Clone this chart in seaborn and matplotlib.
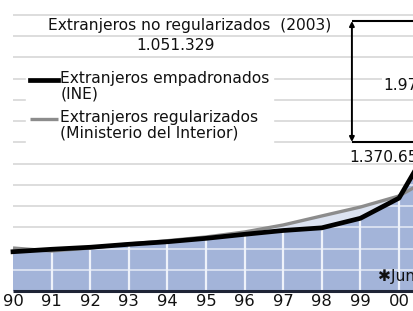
import matplotlib
matplotlib.use("Agg")
import matplotlib.pyplot as plt
import seaborn as sns
import numpy as np
import pandas as pd
from matplotlib.legend_handler import HandlerLine2D

# ---- data (thousands of people) ----
years = [1990, 1991, 1992, 1993, 1994, 1995, 1996, 1997, 1998, 1999, 2000, 2001]
empadronados = [370, 393, 412, 440, 464, 496, 534, 570, 595, 685, 875, 1500]
regularizados = [405, 377, 405, 443, 474, 509, 556, 622, 707, 791, 895, 1100]
tick_labels = ["90", "91", "92", "93", "94", "95", "96", "97", "98", "99", "00"]
label_emp = "Extranjeros empadronados\n(INE)"
label_reg = "Extranjeros regularizados\n(Ministerio del Interior)"
title_txt = "Extranjeros no regularizados  (2003)"
diff_txt = "1.051.329"
upper_txt = "1.977.946"
lower_txt = "1.370.657"
note_txt = "\u2731Junio 2003"
arrow_top, arrow_bottom, arrow_x = 2543, 1404, 1998.78
grid_vals = list(range(200, 2601, 200))

df = pd.DataFrame({"year": years, "emp": empadronados, "reg": regularizados})

sns.set_theme(style="white")
plt.rcParams["font.family"] = ["DejaVu Sans"]
plt.rcParams["text.color"] = "#111111"

W, H = 414, 311
fig = plt.figure(figsize=(W / 100, H / 100), dpi=100)
ax = fig.add_axes([0, 0, 1, 1])

px = 2600 / 276.0
ax.set_xlim(1990 - 13 / 38.6, 1990 + 401 / 38.6)
ax.set_ylim(-20 * px, 2600 + 15 * px)
xmax = ax.get_xlim()[1] + 0.5

BLUE = "#A3B4D9"
PALE = "#DCE3F1"

# gray horizontal grid on white
ax.hlines(grid_vals, 1990, xmax, color="#D7D7D7", lw=1.2, zorder=0)

x = np.array(years, float)
e = np.array(empadronados, float)
r = np.array(regularizados, float)
fill = ax.fill_between(x, 0, e, color=BLUE, lw=0, zorder=1)
ax.fill_between(x, e, r, where=r > e, interpolate=True, color=PALE, lw=0, zorder=1)

# light grid drawn over the blue area only
clip_path = fill.get_paths()[0]
hl = ax.hlines(grid_vals, 1990, xmax, color="#DCE3F2", lw=1.3, zorder=1.5)
hl.set_clip_path(clip_path, ax.transData)
vl = ax.vlines(years[1:11], 0, 2600, color="#EEF2FA", lw=1.6, zorder=1.5)
vl.set_clip_path(clip_path, ax.transData)

# baseline
ax.hlines(0, 1990, xmax, color="#1E2436", lw=2.2, zorder=3)

sns.lineplot(data=df, x="year", y="reg", ax=ax, color="#8C8C8C", lw=2.4,
             label=label_reg, zorder=2, solid_capstyle="butt")
sns.lineplot(data=df, x="year", y="emp", ax=ax, color="black", lw=3.4,
             label=label_emp, zorder=3, solid_capstyle="projecting")
ax.axis("off")


class TopAlignedLine(HandlerLine2D):
    def create_artists(self, legend, orig_handle, xdescent, ydescent,
                       width, height, fontsize, trans):
        arts = super().create_artists(legend, orig_handle, xdescent, ydescent,
                                      width, height, fontsize, trans)
        for a in arts:
            yd = np.asarray(a.get_ydata(), float)
            a.set_ydata(yd + 0.45 * fontsize)
        return arts


handles, labels = ax.get_legend_handles_labels()
order = [labels.index(label_emp), labels.index(label_reg)]
fs = 11.2
leg = ax.legend([handles[i] for i in order], [labels[i] for i in order],
                loc="upper left", bbox_to_anchor=(26 / W, 1 - 67 / H),
                bbox_transform=fig.transFigure, fontsize=fs,
                frameon=True, facecolor="white", edgecolor="white",
                framealpha=1, fancybox=False, handlelength=1.8,
                handletextpad=0.15, labelspacing=0.6, borderpad=0.25,
                borderaxespad=0,
                handler_map={type(handles[0]): TopAlignedLine()})
leg.set_zorder(5)
for t in leg.get_texts():
    t.set_linespacing(1.02)
    t.set_color("#111111")

# arrow annotation
ax.annotate("", xy=(arrow_x, arrow_top), xytext=(arrow_x, arrow_bottom),
            arrowprops=dict(arrowstyle="<|-|>", color="black", lw=1.4,
                            mutation_scale=7, shrinkA=0, shrinkB=0),
            zorder=6)
ax.hlines([arrow_top, arrow_bottom], arrow_x, xmax, color="black", lw=1.5, zorder=6)

ax.text(1990 + (190 - 13) / 38.6, (291 - 25) * px, title_txt, ha="center",
        va="center", fontsize=fs, zorder=7,
        bbox=dict(facecolor="white", edgecolor="none", pad=1))
ax.text(1990 + (176 - 13) / 38.6, (291 - 46) * px, diff_txt, ha="center",
        va="center", fontsize=fs, zorder=7)
ax.text(1990 + (383 - 13) / 38.6, (291 - 85) * px, upper_txt, ha="left",
        va="center", fontsize=fs, zorder=7,
        bbox=dict(facecolor="white", edgecolor="none", pad=1))
ax.text(1990 + (349 - 13) / 38.6, (291 - 157) * px, lower_txt, ha="left",
        va="center", fontsize=fs, zorder=7)
ax.text(1990 + (378 - 13) / 38.6, (291 - 277) * px, note_txt, ha="left",
        va="center", fontsize=fs, zorder=7)

for yr, lab in zip(years[:11], tick_labels):
    ax.text(yr, (291 - 302) * px, lab, ha="center", va="center", fontsize=11.8)

fig.savefig("out.png", dpi=100)
